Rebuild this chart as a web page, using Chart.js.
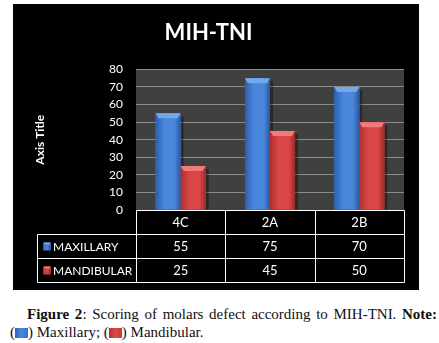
<!DOCTYPE html>
<html>
<head>
<meta charset="utf-8">
<script src="https://cdn.jsdelivr.net/npm/chart.js@4"></script>
<style>
  html, body { margin: 0; padding: 0; background: #fff; }
  body { width: 439px; height: 343px; position: relative; overflow: hidden; }
  #box { position: absolute; left: 13px; top: 4px; width: 406px; height: 286px; background: #000; }
  #caption { position: absolute; left: 10px; top: 305px; width: 427px;
    font-family: "Liberation Serif", "Times New Roman", serif; font-size: 15px; line-height: 18px; color: #111; }
  #caption .l1 { padding-left: 17px; text-align: justify; text-align-last: justify; }
  .key { display: inline-block; width: 13px; height: 10px; vertical-align: -1px; }
</style>
</head>
<body>
<div id="box"><canvas id="chartStatistics" width="406" height="286"></canvas></div>
<div id="caption">
  <div class="l1"><b>Figure 2</b>: Scoring of molars defect according to MIH-TNI. <b>Note:</b></div>
  <div>(<span class="key" style="background:linear-gradient(90deg,#2f66bd,#4a8ae0,#3572c8)"></span>) Maxillary; (<span class="key" style="background:linear-gradient(90deg,#b83232,#dc4a4a,#c43a3a)"></span>) Mandibular.</div>
</div>
<script>
const categories = ['4C', '2A', '2B'];
const maxillary = [55, 75, 70];
const mandibular = [25, 45, 50];
const seriesNames = ['MAXILLARY', 'MANDIBULAR'];
const yTicks = [0, 10, 20, 30, 40, 50, 60, 70, 80];

const chartElement = document.getElementById("chartStatistics");

const shades = [
    { dark: '#2c5fb0', mid: '#4887dc', light: '#74a8ee', edge: '#2a57a0' },
    { dark: '#b02e2e', mid: '#d94646', light: '#f07b7b', edge: '#a02828' },
];

// plot background + bar shadows
const backdrop = {
    id: 'backdrop',
    beforeDraw(chart) {
        const { ctx, chartArea: a } = chart;
        ctx.save();
        ctx.fillStyle = '#404040';
        ctx.fillRect(a.left, a.top, a.right - a.left, a.bottom - a.top);
        ctx.restore();
    },
    beforeDatasetsDraw(chart) {
        const ctx = chart.ctx;
        ctx.save();
        ctx.fillStyle = 'rgba(0,0,0,0.35)';
        chart.data.datasets.forEach((ds, i) => {
            chart.getDatasetMeta(i).data.forEach(bar => {
                const right = bar.x + bar.width / 2;
                ctx.fillRect(right, bar.y + 3, 3, bar.base - bar.y - 3);
            });
        });
        ctx.restore();
    }
};

// shaded bars with a bevelled top
const bevel = {
    id: 'bevel',
    afterDatasetsDraw(chart) {
        const ctx = chart.ctx;
        ctx.save();
        chart.data.datasets.forEach((ds, i) => {
            const s = shades[i];
            chart.getDatasetMeta(i).data.forEach(bar => {
                const l = bar.x - bar.width / 2, r = bar.x + bar.width / 2;
                const g = ctx.createLinearGradient(l, 0, r, 0);
                g.addColorStop(0, s.dark);
                g.addColorStop(0.35, s.mid);
                g.addColorStop(0.75, s.mid);
                g.addColorStop(1, s.edge);
                ctx.fillStyle = g;
                ctx.fillRect(l, bar.y, r - l, bar.base - bar.y);
                ctx.fillStyle = s.light;
                ctx.beginPath();
                ctx.moveTo(l, bar.y);
                ctx.lineTo(r, bar.y);
                ctx.lineTo(r - 3, bar.y + 5);
                ctx.lineTo(l + 3, bar.y + 5);
                ctx.closePath();
                ctx.fill();
            });
        });
        ctx.restore();
    }
};

// data table under the plot
const dataTable = {
    id: 'dataTable',
    afterDraw(chart) {
        const { ctx, chartArea: a } = chart;
        const xs = chart.scales.x;
        const rowH = 24;
        const keyLeft = 24.5;
        const top = Math.round(a.bottom) + 0.5;
        const colW = (a.right - a.left) / categories.length;
        const L = Math.round(a.left) + 0.5, R = Math.round(a.right) + 0.5;
        ctx.save();
        ctx.strokeStyle = '#fff';
        ctx.lineWidth = 1;
        ctx.beginPath();
        ctx.moveTo(L, top); ctx.lineTo(R, top);
        for (let r = 1; r <= 3; r++) {
            ctx.moveTo(keyLeft, top + r * rowH); ctx.lineTo(R, top + r * rowH);
        }
        for (let c = 0; c <= categories.length; c++) {
            const x = Math.round(a.left + c * colW) + 0.5;
            ctx.moveTo(x, top); ctx.lineTo(x, top + 3 * rowH);
        }
        ctx.moveTo(keyLeft, top + rowH); ctx.lineTo(keyLeft, top + 3 * rowH);
        ctx.stroke();

        ctx.fillStyle = '#fff';
        ctx.font = '13px Lato';
        ctx.textAlign = 'center';
        ctx.textBaseline = 'middle';
        const rows = [maxillary, mandibular];
        categories.forEach((cat, i) => {
            const cx = xs.getPixelForValue(i);
            ctx.fillText(cat, cx, top + rowH / 2);
            rows.forEach((vals, r) => ctx.fillText(String(vals[i]), cx, top + (r + 1.5) * rowH));
        });
        ctx.textAlign = 'left';
        ctx.font = '12px Lato';
        seriesNames.forEach((name, r) => {
            const cy = top + (r + 1.5) * rowH;
            const s = shades[r];
            const g = ctx.createLinearGradient(30, 0, 38, 0);
            g.addColorStop(0, s.dark); g.addColorStop(0.5, s.mid); g.addColorStop(1, s.edge);
            ctx.fillStyle = g;
            ctx.fillRect(30, cy - 4, 8, 8);
            ctx.fillStyle = s.light;
            ctx.fillRect(31, cy - 4, 6, 2);
            ctx.fillStyle = '#fff';
            ctx.fillText(name, 40, cy + 0.5);
        });
        ctx.restore();
    }
};

const configBarChart = {
    type: 'bar',
    data: {
        labels: categories,
        datasets: [
            { label: seriesNames[0], data: maxillary, backgroundColor: shades[0].mid },
            { label: seriesNames[1], data: mandibular, backgroundColor: shades[1].mid },
        ],
    },
    options: {
        responsive: false,
        animation: false,
        categoryPercentage: 0.56,
        barPercentage: 1,
        layout: { padding: { left: 0, right: 15, top: 0, bottom: 8 } },
        plugins: {
            legend: { display: false },
            tooltip: { enabled: false },
            title: {
                display: true,
                text: 'MIH-TNI',
                color: '#fff',
                font: { family: 'Lato', size: 22, weight: 'bold' },
                padding: { top: 16, bottom: 23 },
            },
        },
        scales: {
            x: {
                grid: { display: false },
                border: { display: false },
                ticks: { display: false },
                afterFit: s => { s.height = 72; },
            },
            y: {
                min: 0,
                max: 80,
                afterBuildTicks: s => { s.ticks = yTicks.map(v => ({ value: v })); },
                grid: { color: '#8c8c8c', drawTicks: false },
                border: { display: false },
                ticks: { color: '#fff', padding: 13, font: { family: 'Lato', size: 12 } },
                title: {
                    display: true,
                    text: 'Axis Title',
                    color: '#fff',
                    font: { family: 'Lato', size: 12, weight: 'bold' },
                    padding: { top: 20, bottom: 0 },
                },
                afterFit: s => { s.width = 123; },
            },
        },
    },
    plugins: [backdrop, bevel, dataTable],
};

var chartBar = new Chart(chartElement, configBarChart);
</script>
</body>
</html>
